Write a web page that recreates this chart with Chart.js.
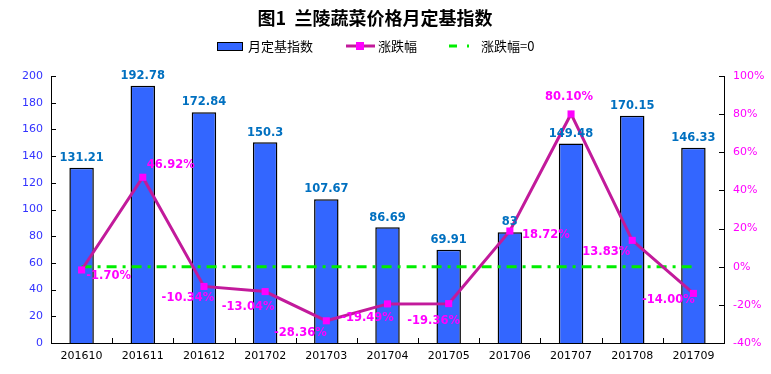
<!DOCTYPE html>
<html>
<head>
<meta charset="utf-8">
<script src="https://cdn.jsdelivr.net/npm/chart.js@4/dist/chart.umd.min.js"></script>
<style>
  html, body { margin: 0; padding: 0; background: #fff; }
  #wrap { width: 771px; height: 374px; }
</style>
</head>
<body>
<div id="wrap"><canvas id="chart" width="771" height="374"></canvas></div>
<script>
const categories = ['201610', '201611', '201612', '201702', '201703', '201704', '201705', '201706', '201707', '201708', '201709'];
const indexValues = [131.21, 192.78, 172.84, 150.3, 107.67, 86.69, 69.91, 83, 149.48, 170.15, 146.33];
const changeValues = [-1.70, 46.92, -10.34, -13.04, -28.36, -19.49, -19.36, 18.72, 80.10, 13.83, -14.00];
const zeroValues = [0, 0, 0, 0, 0, 0, 0, 0, 0, 0, 0];
const indexLabels = ['131.21', '192.78', '172.84', '150.3', '107.67', '86.69', '69.91', '83', '149.48', '170.15', '146.33'];
const changeLabels = ['-1.70%', '46.92%', '-10.34%', '-13.04%', '-28.36%', '-19.49%', '-19.36%', '18.72%', '80.10%', '13.83%', '-14.00%'];

// where each percentage label sits relative to its point (center offset, px)
const changeLabelOffsets = [[27, 6], [28, -12], [-16, 12], [-17, 15], [-26, 12], [-20, 14], [-15, 17], [36, 4], [-2, -17], [-26, 12], [-25, 7]];

const tickFont = { family: 'DejaVu Sans', size: 11 };
const cjk = '"Noto Sans CJK SC", "Noto Sans", sans-serif';

const decorations = {
  id: 'decorations',
  afterDatasetsDraw(chart) {
    const ctx = chart.ctx;
    const { x, y, y1 } = chart.scales;
    const area = chart.chartArea;
    ctx.save();

    // inward tick marks
    ctx.strokeStyle = '#000';
    ctx.lineWidth = 1;
    ctx.beginPath();
    y.ticks.forEach(t => {
      const py = Math.round(y.getPixelForValue(t.value)) + 0.5;
      ctx.moveTo(area.left, py); ctx.lineTo(area.left + 5, py);
    });
    y1.ticks.forEach(t => {
      const py = Math.round(y1.getPixelForValue(t.value)) + 0.5;
      ctx.moveTo(area.right, py); ctx.lineTo(area.right - 5, py);
    });
    const step = (x.getPixelForValue(1) - x.getPixelForValue(0));
    for (let i = 1; i < categories.length; i++) {
      const px = Math.round(x.getPixelForValue(i) - step / 2) + 0.5;
      ctx.moveTo(px, area.bottom); ctx.lineTo(px, area.bottom - 5);
    }
    ctx.stroke();

    // bar value labels
    const barMeta = chart.getDatasetMeta(0);
    ctx.font = 'bold 11.5px "DejaVu Sans"';
    ctx.fillStyle = '#0070c0';
    ctx.textAlign = 'center';
    ctx.textBaseline = 'bottom';
    barMeta.data.forEach((bar, i) => {
      ctx.fillText(indexLabels[i], bar.x, bar.y - 4);
    });

    // line value labels
    const lineMeta = chart.getDatasetMeta(1);
    ctx.fillStyle = '#ff00ff';
    ctx.textBaseline = 'middle';
    lineMeta.data.forEach((pt, i) => {
      const [dx, dy] = changeLabelOffsets[i];
      ctx.fillText(changeLabels[i], pt.x + dx, pt.y + dy);
    });
    ctx.restore();
  },
  afterDraw(chart) {
    const ctx = chart.ctx;
    ctx.save();
    // title
    ctx.fillStyle = '#000';
    ctx.font = 'bold 18px ' + cjk;
    ctx.textAlign = 'center';
    ctx.textBaseline = 'middle';
    ctx.fillText('图1  兰陵蔬菜价格月定基指数', 375, 18);

    // legend
    const ly = 46;
    ctx.font = '13px ' + cjk;
    ctx.textAlign = 'left';
    ctx.fillStyle = '#3366ff';
    ctx.fillRect(217, ly - 4, 26, 9);
    ctx.strokeStyle = '#000';
    ctx.lineWidth = 1;
    ctx.strokeRect(217.5, ly - 3.5, 25, 8);
    ctx.fillStyle = '#000';
    ctx.fillText('月定基指数', 248, ly);

    ctx.strokeStyle = '#c21a9b';
    ctx.lineWidth = 3;
    ctx.beginPath(); ctx.moveTo(346, ly); ctx.lineTo(375, ly); ctx.stroke();
    ctx.fillStyle = '#ff00ff';
    ctx.fillRect(356, ly - 4, 8, 8);
    ctx.fillStyle = '#000';
    ctx.fillText('涨跌幅', 378, ly);

    ctx.strokeStyle = '#00ee00';
    ctx.lineWidth = 3;
    ctx.beginPath(); ctx.moveTo(449, ly); ctx.lineTo(457, ly); ctx.stroke();
    ctx.beginPath(); ctx.moveTo(467, ly); ctx.lineTo(469, ly); ctx.stroke();
    ctx.fillStyle = '#000';
    ctx.fillText('涨跌幅=0', 481, ly);
    ctx.restore();
  }
};

new Chart(document.getElementById('chart'), {
  type: 'bar',
  data: {
    labels: categories,
    datasets: [
      {
        type: 'bar',
        label: '月定基指数',
        data: indexValues,
        yAxisID: 'y',
        backgroundColor: '#3366ff',
        borderColor: '#000',
        borderWidth: 1.5,
        borderSkipped: 'bottom',
        barPercentage: 0.4,
        categoryPercentage: 1,
        order: 3
      },
      {
        type: 'line',
        label: '涨跌幅',
        data: changeValues,
        yAxisID: 'y1',
        borderColor: '#c21a9b',
        borderWidth: 3,
        tension: 0,
        pointStyle: 'rect',
        pointRadius: 5,
        pointBackgroundColor: '#ff00ff',
        pointBorderColor: '#ff00ff',
        pointBorderWidth: 0,
        order: 1
      },
      {
        type: 'line',
        label: '涨跌幅=0',
        data: zeroValues,
        yAxisID: 'y1',
        borderColor: '#00ee00',
        borderWidth: 3,
        borderDash: [10, 6, 3, 6],
        pointRadius: 0,
        order: 2
      }
    ]
  },
  options: {
    responsive: false,
    animation: false,
    layout: { padding: { top: 76, left: 0, right: 0, bottom: 0 } },
    plugins: {
      legend: { display: false },
      title: { display: false },
      tooltip: { enabled: false }
    },
    scales: {
      x: {
        grid: { display: false, drawTicks: false, tickLength: 0 },
        border: { color: '#000', width: 1 },
        ticks: { color: '#000', font: tickFont, padding: 7, maxRotation: 0, autoSkip: false },
        afterFit(scale) { scale.height = 31; }
      },
      y: {
        position: 'left',
        min: 0,
        max: 200,
        grid: { display: false, drawTicks: false, tickLength: 0 },
        border: { color: '#000', width: 1 },
        ticks: { stepSize: 20, color: '#3333ff', font: tickFont, padding: 8 },
        afterFit(scale) { scale.width = 51; }
      },
      y1: {
        position: 'right',
        min: -40,
        max: 100,
        grid: { display: false, drawTicks: false, tickLength: 0 },
        border: { color: '#000', width: 1 },
        ticks: { stepSize: 20, color: '#ff00ff', font: tickFont, padding: 9, callback: v => v + '%' },
        afterFit(scale) { scale.width = 47; }
      }
    }
  },
  plugins: [decorations]
});
</script>
</body>
</html>
